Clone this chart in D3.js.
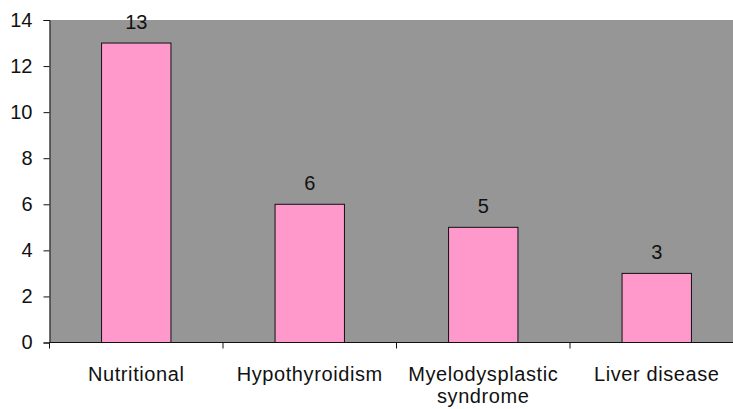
<!DOCTYPE html>
<html>
<head>
<meta charset="utf-8">
<script src="https://cdn.jsdelivr.net/npm/d3@7"></script>
<style>
  html, body { margin: 0; padding: 0; background: #fff; }
  svg { display: block; }
  text { font-family: "Liberation Sans", Arial, sans-serif; fill: #111; }
</style>
</head>
<body>
<svg id="chart" width="733" height="409"></svg>
<script>
// Chart data
const categories = ["Nutritional", "Hypothyroidism", "Myelodysplastic\nsyndrome", "Liver disease"];
const counts = [13, 6, 5, 3];
const yTicks = [0, 2, 4, 6, 8, 10, 12, 14];

const svg = d3.select("#chart");
const margin = { left: 49.5, top: 20, bottom: 342.5 };
const plotRight = 743.5; // plot area runs past the right edge of the view

const x = d3.scaleBand()
  .domain(categories)
  .range([margin.left, plotRight])
  .paddingInner(0)
  .paddingOuter(0);

const y = d3.scaleLinear()
  .domain([0, 14])
  .range([margin.bottom, margin.top]);

// Plot background
svg.append("rect")
  .attr("x", margin.left)
  .attr("y", margin.top)
  .attr("width", plotRight - margin.left)
  .attr("height", margin.bottom - margin.top)
  .attr("fill", "#969696");

// Bars
const barW = x.bandwidth() * 0.4;
svg.append("g").selectAll("rect")
  .data(counts)
  .join("rect")
  .attr("x", (d, i) => x(categories[i]) + (x.bandwidth() - barW) / 2)
  .attr("y", d => y(d))
  .attr("width", barW)
  .attr("height", d => y(0) - y(d))
  .attr("fill", "#ff99cc")
  .attr("stroke", "#111")
  .attr("stroke-width", 1);

// Value labels
svg.append("g").selectAll("text")
  .data(counts)
  .join("text")
  .attr("x", (d, i) => x(categories[i]) + x.bandwidth() / 2)
  .attr("y", d => y(d) - 14)
  .attr("text-anchor", "middle")
  .attr("font-size", 20)
  .text(d => d);

// Y axis
const yAxis = svg.append("g")
  .attr("transform", `translate(${margin.left},0)`)
  .call(d3.axisLeft(y).tickValues(yTicks).tickSize(6).tickPadding(11).tickFormat(d3.format("d")));
yAxis.selectAll("path, line").attr("stroke", "#111");
yAxis.selectAll("text").attr("font-size", 20).attr("font-family", "Liberation Sans, Arial, sans-serif").attr("fill", "#111");

// X axis: baseline with ticks at band boundaries
const xg = svg.append("g").attr("transform", `translate(0,${margin.bottom})`);
xg.append("line")
  .attr("x1", margin.left).attr("x2", plotRight)
  .attr("stroke", "#111");
const bounds = categories.map(c => x(c)).concat([plotRight]);
xg.selectAll("line.tick")
  .data(bounds)
  .join("line")
  .attr("class", "tick")
  .attr("x1", d => d).attr("x2", d => d)
  .attr("y1", 0).attr("y2", 6)
  .attr("stroke", "#111");

// Category labels (multi-line where needed)
const lab = xg.selectAll("text.cat")
  .data(categories)
  .join("text")
  .attr("class", "cat")
  .attr("x", d => x(d) + x.bandwidth() / 2)
  .attr("y", 38.5)
  .attr("text-anchor", "middle")
  .attr("font-size", 20)
  .attr("letter-spacing", "0.6px");
lab.each(function(d) {
  const t = d3.select(this);
  d.split("\n").forEach((line, i) => {
    t.append("tspan")
      .attr("x", x(d) + x.bandwidth() / 2)
      .attr("dy", i === 0 ? 0 : 22)
      .text(line);
  });
});
</script>
</body>
</html>
